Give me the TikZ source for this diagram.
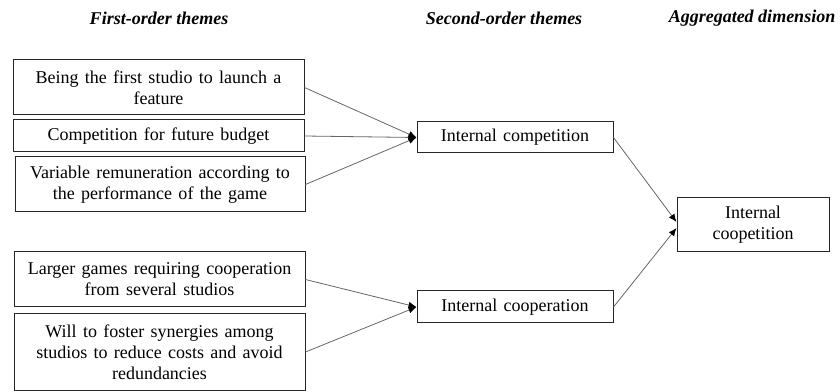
\documentclass[tikz,border=0pt]{standalone}
\usepackage{fontspec}
\setmainfont{Liberation Serif}
\newfontfamily\boxfont[WordSpace=1.4]{Liberation Serif}
\usetikzlibrary{arrows.meta}
\begin{document}
\begin{tikzpicture}[x=0.75pt,y=-0.75pt,
  box/.style={draw=black!85,line width=0.75pt,align=center,inner sep=2pt,
    font=\boxfont\fontsize{13.5}{15.75}\selectfont},
  hdr/.style={font=\fontsize{13.5}{15}\selectfont\bfseries\itshape,inner sep=0pt},
  conn/.style={draw=black!60,line width=0.6pt,-{Latex[length=6pt,width=5pt,black]}}]
\useasboundingbox (0,0) rectangle (840,392);
\node[hdr] (h1) at (159,18) {First-order themes};
\node[hdr] (h2) at (504,18) {Second-order themes};
\node[hdr] (h3) at (752,18) {Aggregated dimension};
\node[box,minimum width=218.25pt,minimum height=41.25pt] (b1) at (158.5,87.5) {Being the first studio to launch a\\feature};
\node[box,minimum width=218.25pt,minimum height=24pt] (b2) at (158.5,136) {Competition for future budget};
\node[box,minimum width=217.5pt,minimum height=41.25pt] (b3) at (160,184.5) {Variable remuneration according to\\the performance of the game};
\node[box,minimum width=218.25pt,minimum height=41.25pt] (b4) at (159.5,279.5) {Larger games requiring cooperation\\from several studios};
\node[box,minimum width=218.25pt,minimum height=57pt] (b5) at (159.5,352) {Will to foster synergies among\\studios to reduce costs and avoid\\redundancies};
\node[box,minimum width=147pt,minimum height=23.25pt] (c1) at (515,137.5) {Internal competition};
\node[box,minimum width=147pt,minimum height=24pt] (c2) at (515,307) {Internal cooperation};
\node[box,minimum width=114pt,minimum height=40.5pt] (a1) at (753,225) {Internal\\coopetition};
\coordinate (a1t) at ([yshift=2.25pt]a1.west);
\coordinate (a1b) at ([yshift=-2.25pt]a1.west);
\draw[conn] (b1.east) -- (c1.west);
\draw[conn] (b2.east) -- (c1.west);
\draw[conn] (b3.east) -- (c1.west);
\draw[conn] (b4.east) -- (c2.west);
\draw[conn] (b5.east) -- (c2.west);
\draw[conn] (c1.east) -- (a1t);
\draw[conn] (c2.east) -- (a1b);
\end{tikzpicture}
\end{document}
